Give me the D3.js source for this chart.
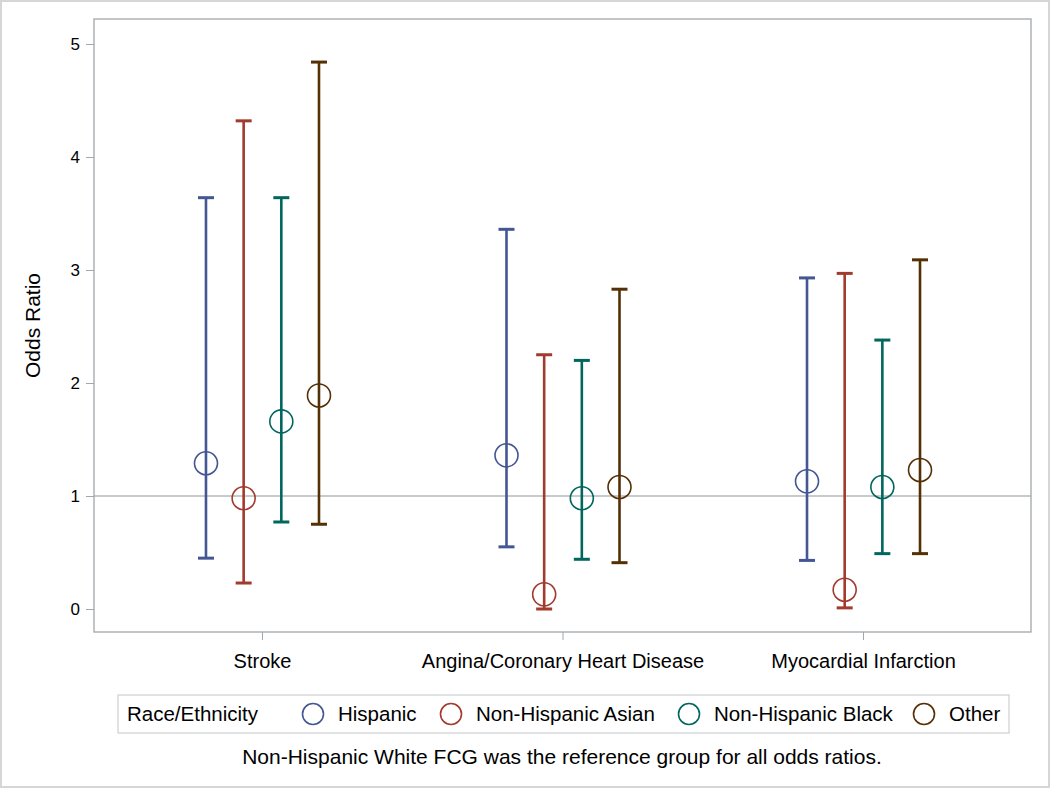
<!DOCTYPE html>
<html><head><meta charset="utf-8">
<script src="https://cdn.jsdelivr.net/npm/d3@7"></script>
<style>body{margin:0;background:#fff}svg{display:block}text{font-family:"Liberation Sans",Arial,sans-serif;fill:#000}</style>
</head><body>
<svg id="c" width="1050" height="788"></svg>
<script>
const categories = ["Stroke", "Angina/Coronary Heart Disease", "Myocardial Infarction"];
const groups = ["Hispanic", "Non-Hispanic Asian", "Non-Hispanic Black", "Other"];
const colors = ["#445694", "#A23A2E", "#01665E", "#543005"];
// odds ratio estimates per group, per category
const estHispanic = [1.29, 1.36, 1.13];
const estAsian    = [0.98, 0.13, 0.17];
const estBlack    = [1.66, 0.98, 1.08];
const estOther    = [1.89, 1.08, 1.23];
const lowHispanic = [0.45, 0.55, 0.43];
const lowAsian    = [0.23, 0.00, 0.01];
const lowBlack    = [0.77, 0.44, 0.49];
const lowOther    = [0.75, 0.41, 0.49];
const upHispanic  = [3.64, 3.36, 2.93];
const upAsian     = [4.32, 2.25, 2.97];
const upBlack     = [3.64, 2.20, 2.38];
const upOther     = [4.84, 2.83, 3.09];
const yTicks = [0, 1, 2, 3, 4, 5];
const refValue = 1;
const yTitle = "Odds Ratio";
const legendTitle = "Race/Ethnicity";
const footnote = "Non-Hispanic White FCG was the reference group for all odds ratios.";

const est = [estHispanic, estAsian, estBlack, estOther];
const low = [lowHispanic, lowAsian, lowBlack, lowOther];
const up = [upHispanic, upAsian, upBlack, upOther];
const rows = [];
groups.forEach((g, gi) => categories.forEach((c, ci) => rows.push({g, gi, c, e: est[gi][ci], lo: low[gi][ci], hi: up[gi][ci]})));

const svg = d3.select("#c");
const L = 94, R = 1031, T = 19, B = 632;
svg.append("rect").attr("x", 1).attr("y", 1).attr("width", 1048).attr("height", 786)
  .attr("fill", "#fff").attr("stroke", "#d6d6d6").attr("stroke-width", 2);

const x = d3.scalePoint().domain(categories).range([L, R]).padding(0.559);
const inner = d3.scalePoint().domain(groups).range([-56, 57]);
const y = d3.scaleLinear().domain([-0.2035, 5.2212]).range([B, T]);

const axisColor = "#a2a7ab";
// y axis
const ya = svg.append("g").attr("transform", `translate(${L},0)`)
  .call(d3.axisLeft(y).tickValues(yTicks).tickSize(8).tickPadding(6).tickFormat(d3.format("d")));
ya.select(".domain").remove();
ya.selectAll("line").attr("stroke", axisColor);
ya.selectAll("text").style("font-size", "17px").attr("fill", "#000");
// x axis
const xa = svg.append("g").attr("transform", `translate(0,${B})`)
  .call(d3.axisBottom(x).tickSize(8).tickPadding(14));
xa.select(".domain").remove();
xa.selectAll("line").attr("stroke", axisColor);
xa.selectAll("text").style("font-size", "20px").attr("fill", "#000");

svg.append("text").attr("transform", `translate(40,${(T + B) / 2}) rotate(-90)`)
  .attr("text-anchor", "middle").style("font-size", "21px").text(yTitle);

// reference line
svg.append("line").attr("x1", L).attr("x2", R).attr("y1", y(refValue)).attr("y2", y(refValue))
  .attr("stroke", "#8e979d").attr("stroke-width", 1.2);

const cap = 8;
const g = svg.append("g");
const px = d => x(d.c) + inner(d.g);
g.selectAll(".bar").data(rows).join("line")
  .attr("x1", px).attr("x2", px).attr("y1", d => y(d.lo)).attr("y2", d => y(d.hi))
  .attr("stroke", d => colors[d.gi]).attr("stroke-width", 2.6);
["lo", "hi"].forEach(k => {
  g.selectAll(".cap" + k).data(rows).join("line")
    .attr("x1", d => px(d) - cap).attr("x2", d => px(d) + cap)
    .attr("y1", d => y(d[k])).attr("y2", d => y(d[k]))
    .attr("stroke", d => colors[d.gi]).attr("stroke-width", 3);
});
g.selectAll("circle").data(rows).join("circle")
  .attr("cx", px).attr("cy", d => y(d.e)).attr("r", 11.5)
  .attr("fill", "none").attr("stroke", d => colors[d.gi]).attr("stroke-width", 1.6);

// frame
svg.append("rect").attr("x", L).attr("y", T).attr("width", R - L).attr("height", B - T)
  .attr("fill", "none").attr("stroke", axisColor).attr("stroke-width", 1.3);

// legend
const lg = svg.append("g");
lg.append("rect").attr("x", 118).attr("y", 695).attr("width", 891).attr("height", 38)
  .attr("fill", "none").attr("stroke", "#d0d3d6").attr("stroke-width", 1.3);
lg.append("text").attr("x", 127).attr("y", 721).style("font-size", "20.5px").text(legendTitle);
const legX = [313, 451, 689, 924];
groups.forEach((name, i) => {
  lg.append("circle").attr("cx", legX[i]).attr("cy", 714).attr("r", 10.5)
    .attr("fill", "none").attr("stroke", colors[i]).attr("stroke-width", 1.6);
  lg.append("text").attr("x", legX[i] + 25).attr("y", 721).style("font-size", "20.5px").text(name);
});
svg.append("text").attr("x", 562).attr("y", 764).attr("text-anchor", "middle")
  .style("font-size", "21px").text(footnote);
</script>
</body></html>
